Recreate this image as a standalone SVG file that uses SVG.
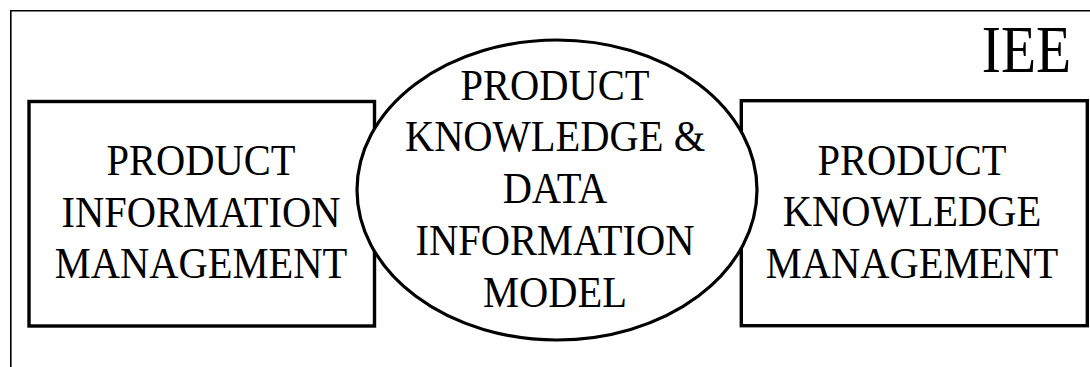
<svg xmlns="http://www.w3.org/2000/svg" width="1090" height="367" viewBox="0 0 1090 367">
<style>
.frame{fill:none;stroke:#000;stroke-width:1.6}
.box{fill:#fff;stroke:#000;stroke-width:3.4}
.ell{fill:#fff;stroke:#000;stroke-width:3.2}
text{font-family:'Liberation Serif','DejaVu Serif',serif;fill:#000;text-anchor:middle}
.lbl{font-size:40.5px}
.big{font-size:57.5px}
</style>
<rect width="1090" height="367" fill="#fff"/>
<g id="frame">
<path class="frame" d="M10.8,367 V10.8 H1090"/>
</g>
<g id="title">
<text class="big" font-family="Liberation Serif, serif" transform="translate(1026.5,72) scale(1,1.18)">IEE</text>
</g>
<g id="connectors"></g>
<g id="pim">
<rect class="box" x="29" y="101.5" width="345.5" height="224.5"/>
<text class="lbl" transform="translate(201,175) scale(1,1.1)">PRODUCT</text>
<text class="lbl" transform="translate(201,227) scale(1,1.1)">INFORMATION</text>
<text class="lbl" transform="translate(201,278) scale(1,1.1)">MANAGEMENT</text>
</g>
<g id="pkm">
<rect class="box" x="741.3" y="100.7" width="346" height="225"/>
<text class="lbl" transform="translate(912,175) scale(1,1.1)">PRODUCT</text>
<text class="lbl" transform="translate(912,226) scale(1,1.1)">KNOWLEDGE</text>
<text class="lbl" transform="translate(912,278) scale(1,1.1)">MANAGEMENT</text>
</g>
<g id="model">
<ellipse class="ell" cx="557" cy="190" rx="200" ry="150"/>
<text class="lbl" transform="translate(555,100) scale(1,1.1)">PRODUCT</text>
<text class="lbl" transform="translate(555,151) scale(1,1.1)">KNOWLEDGE &amp;</text>
<text class="lbl" transform="translate(555,203) scale(1,1.1)">DATA</text>
<text class="lbl" transform="translate(555,255) scale(1,1.1)">INFORMATION</text>
<text class="lbl" transform="translate(555,307) scale(1,1.1)">MODEL</text>
</g>
</svg>
